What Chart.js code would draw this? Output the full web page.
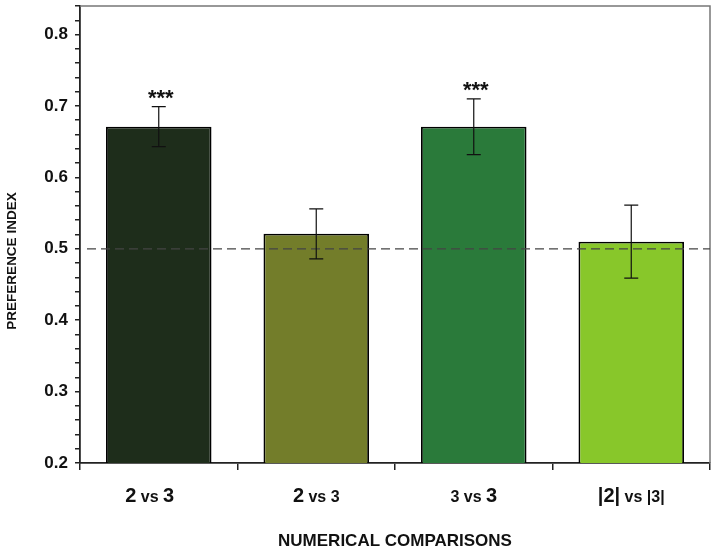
<!DOCTYPE html>
<html>
<head>
<meta charset="utf-8">
<script src="https://cdn.jsdelivr.net/npm/chart.js@4"></script>
<style>
  body { margin: 0; background: #fff; }
  #wrap { width: 717px; height: 555px; }
</style>
</head>
<body>
<div id="wrap"><canvas id="prefChart" width="717" height="555"></canvas></div>
<script>
// data
const categories = ['2 vs 3', '2 vs 3', '3 vs 3', '|2| vs |3|'];
const prefIndex = [0.671, 0.521, 0.671, 0.510];
const prefError = [0.028, 0.035, 0.039, 0.051];
const significance = ['***', '', '***', ''];
const chanceLevel = 0.5;
const yMin = 0.2, yMax = 0.84;

// which parts of each label are printed large (style only)
const labelParts = [
  [['2', 'big'], [' vs ', 'small'], ['3', 'big']],
  [['2', 'big'], [' vs ', 'small'], ['3', 'small']],
  [['3', 'small'], [' vs ', 'small'], ['3', 'big']],
  [['|2|', 'big'], [' vs ', 'small'], ['|3|', 'small']]
];
const labelShift = [-9, 0, 0, 0];
const barColors = ['#1e2d1b', '#737d2a', '#2a7a3a', '#88c72a'];

const extras = {
  id: 'extras',
  afterDatasetsDraw(chart) {
    const { ctx, chartArea: a, scales: { x, y } } = chart;
    ctx.save();
    // top and right frame
    ctx.strokeStyle = '#777';
    ctx.lineWidth = 1.5;
    ctx.beginPath();
    ctx.moveTo(a.left, a.top);
    ctx.lineTo(a.right, a.top);
    ctx.lineTo(a.right, a.bottom);
    ctx.stroke();

    // chance line
    ctx.strokeStyle = '#444';
    ctx.lineWidth = 1.2;
    ctx.setLineDash([9, 5]);
    ctx.beginPath();
    ctx.moveTo(a.left + 7, y.getPixelForValue(chanceLevel));
    ctx.lineTo(a.right, y.getPixelForValue(chanceLevel));
    ctx.stroke();
    ctx.setLineDash([]);

    // error bars and stars
    ctx.strokeStyle = '#111';
    ctx.lineWidth = 1.2;
    prefIndex.forEach((v, i) => {
      const cx = x.getPixelForValue(i);
      const top = y.getPixelForValue(v + prefError[i]);
      const bot = y.getPixelForValue(v - prefError[i]);
      ctx.beginPath();
      ctx.moveTo(cx, top); ctx.lineTo(cx, bot);
      ctx.moveTo(cx - 7, top); ctx.lineTo(cx + 7, top);
      ctx.moveTo(cx - 7, bot); ctx.lineTo(cx + 7, bot);
      ctx.stroke();
      if (significance[i]) {
        ctx.fillStyle = '#111';
        ctx.font = 'bold 22px "Liberation Sans", Arial, sans-serif';
        ctx.textAlign = 'center';
        ctx.textBaseline = 'alphabetic';
        ctx.fillText(significance[i], cx + 2, top - 2);
      }
    });

    // x category labels with mixed sizes
    ctx.fillStyle = '#111';
    ctx.textBaseline = 'alphabetic';
    ctx.textAlign = 'left';
    const fonts = {
      big: 'bold 20px "Liberation Sans", Arial, sans-serif',
      small: 'bold 16px "Liberation Sans", Arial, sans-serif'
    };
    labelParts.forEach((parts, i) => {
      let w = 0;
      parts.forEach(([t, s]) => { ctx.font = fonts[s]; w += ctx.measureText(t).width; });
      let px = x.getPixelForValue(i) - w / 2 + labelShift[i];
      parts.forEach(([t, s]) => {
        ctx.font = fonts[s];
        ctx.fillText(t, px, 502);
        px += ctx.measureText(t).width;
      });
    });

    // y title
    ctx.save();
    ctx.translate(12, 261);
    ctx.rotate(-Math.PI / 2);
    ctx.textAlign = 'center';
    ctx.textBaseline = 'middle';
    ctx.font = 'bold 13.5px "Liberation Sans", Arial, sans-serif';
    ctx.fillText('PREFERENCE INDEX', 0, 0);
    ctx.restore();
    ctx.restore();
  }
};

new Chart(document.getElementById('prefChart'), {
  type: 'bar',
  data: {
    labels: categories,
    datasets: [{
      data: prefIndex,
      backgroundColor: barColors,
      borderColor: '#000',
      borderWidth: 1.8,
      borderSkipped: 'bottom',
      barPercentage: 0.67,
      categoryPercentage: 1
    }]
  },
  options: {
    responsive: false,
    animation: false,
    layout: { padding: { left: 0, right: 7, top: 6, bottom: 0 } },
    plugins: { legend: { display: false }, tooltip: { enabled: false } },
    scales: {
      x: {
        afterFit: s => { s.height = 92; s.paddingLeft = 0; s.paddingRight = 0; },
        grid: { offset: true, drawOnChartArea: false, drawTicks: true, tickLength: 7, color: '#222', lineWidth: 1.5 },
        border: { color: '#222', width: 1.8 },
        ticks: { display: false },
        title: {
          display: true,
          text: 'NUMERICAL COMPARISONS',
          color: '#111',
          font: { family: '"Liberation Sans", Arial', size: 17, weight: 'bold' },
          padding: { top: 0, bottom: 3 }
        }
      },
      y: {
        min: yMin,
        max: yMax,
        afterFit: s => { s.width = 80; s.paddingTop = 0; s.paddingBottom = 0; },
        grid: { drawOnChartArea: false, drawTicks: true, tickLength: 5, color: '#222', lineWidth: 1.5 },
        border: { color: '#222', width: 1.8 },
        ticks: {
          stepSize: 0.02,
          autoSkip: false,
          color: '#111',
          padding: 7,
          font: { family: '"Liberation Sans", Arial', size: 17, weight: 'bold' },
          callback: v => Math.abs(v * 10 - Math.round(v * 10)) < 1e-6 ? v.toFixed(1) : ''
        }
      }
    }
  },
  plugins: [extras]
});
</script>
</body>
</html>
